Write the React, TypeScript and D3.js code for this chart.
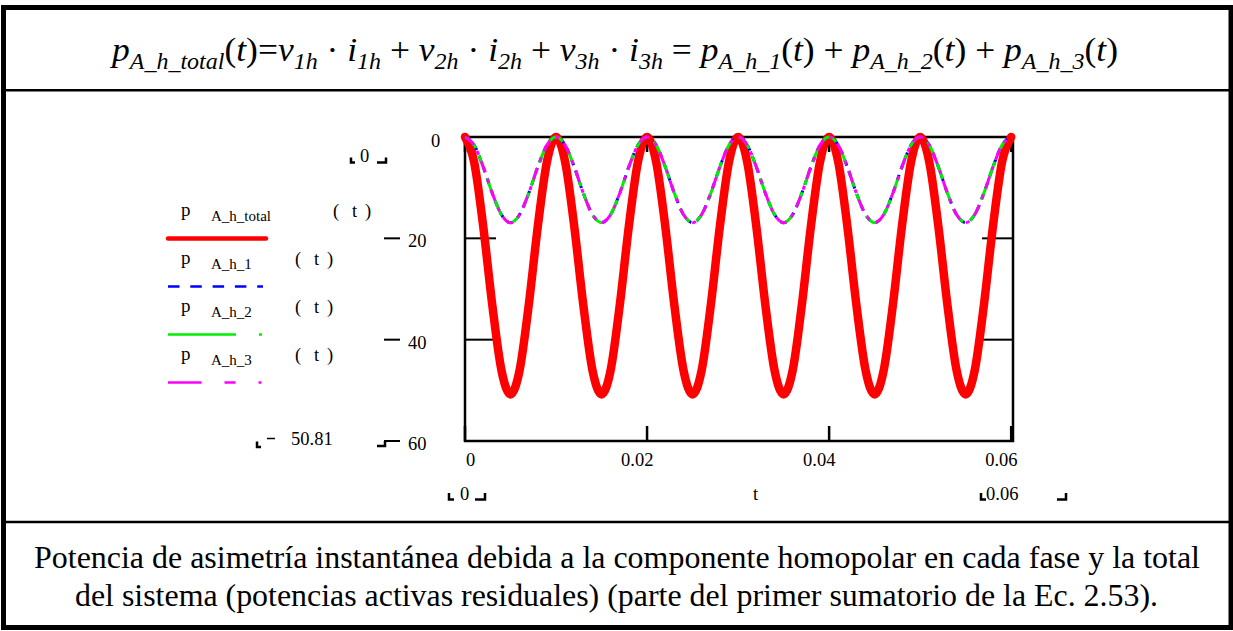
import React from 'react';
import * as d3 from 'd3';

// time samples (s)
const timeSec = [
  0, 0.001, 0.002, 0.003, 0.004, 0.005, 0.006, 0.007, 0.008, 0.009,
  0.01, 0.011, 0.012, 0.013, 0.014, 0.015, 0.016, 0.017, 0.018, 0.019,
  0.02, 0.021, 0.022, 0.023, 0.024, 0.025, 0.026, 0.027, 0.028, 0.029,
  0.03, 0.031, 0.032, 0.033, 0.034, 0.035, 0.036, 0.037, 0.038, 0.039,
  0.04, 0.041, 0.042, 0.043, 0.044, 0.045, 0.046, 0.047, 0.048, 0.049,
  0.05, 0.051, 0.052, 0.053, 0.054, 0.055, 0.056, 0.057, 0.058, 0.059,
  0.06,
];

// p_A_h_total(t)
const pTotal = [
  0, -4.9, -17.6, -33.2, -46.0, -50.8, -46.0, -33.2, -17.6, -4.9,
  0, -4.9, -17.6, -33.2, -46.0, -50.8, -46.0, -33.2, -17.6, -4.9,
  0, -4.9, -17.6, -33.2, -46.0, -50.8, -46.0, -33.2, -17.6, -4.9,
  0, -4.9, -17.6, -33.2, -46.0, -50.8, -46.0, -33.2, -17.6, -4.9,
  0, -4.9, -17.6, -33.2, -46.0, -50.8, -46.0, -33.2, -17.6, -4.9,
  0, -4.9, -17.6, -33.2, -46.0, -50.8, -46.0, -33.2, -17.6, -4.9,
  0,
];

// p_A_h_1(t)
const pA1 = [
  0, -1.6, -5.9, -11.1, -15.3, -16.9, -15.3, -11.1, -5.9, -1.6,
  0, -1.6, -5.9, -11.1, -15.3, -16.9, -15.3, -11.1, -5.9, -1.6,
  0, -1.6, -5.9, -11.1, -15.3, -16.9, -15.3, -11.1, -5.9, -1.6,
  0, -1.6, -5.9, -11.1, -15.3, -16.9, -15.3, -11.1, -5.9, -1.6,
  0, -1.6, -5.9, -11.1, -15.3, -16.9, -15.3, -11.1, -5.9, -1.6,
  0, -1.6, -5.9, -11.1, -15.3, -16.9, -15.3, -11.1, -5.9, -1.6,
  0,
];

// p_A_h_2(t)
const pA2 = [
  0, -1.6, -5.9, -11.1, -15.3, -16.9, -15.3, -11.1, -5.9, -1.6,
  0, -1.6, -5.9, -11.1, -15.3, -16.9, -15.3, -11.1, -5.9, -1.6,
  0, -1.6, -5.9, -11.1, -15.3, -16.9, -15.3, -11.1, -5.9, -1.6,
  0, -1.6, -5.9, -11.1, -15.3, -16.9, -15.3, -11.1, -5.9, -1.6,
  0, -1.6, -5.9, -11.1, -15.3, -16.9, -15.3, -11.1, -5.9, -1.6,
  0, -1.6, -5.9, -11.1, -15.3, -16.9, -15.3, -11.1, -5.9, -1.6,
  0,
];

// p_A_h_3(t)
const pA3 = [
  0, -1.6, -5.9, -11.1, -15.3, -16.9, -15.3, -11.1, -5.9, -1.6,
  0, -1.6, -5.9, -11.1, -15.3, -16.9, -15.3, -11.1, -5.9, -1.6,
  0, -1.6, -5.9, -11.1, -15.3, -16.9, -15.3, -11.1, -5.9, -1.6,
  0, -1.6, -5.9, -11.1, -15.3, -16.9, -15.3, -11.1, -5.9, -1.6,
  0, -1.6, -5.9, -11.1, -15.3, -16.9, -15.3, -11.1, -5.9, -1.6,
  0, -1.6, -5.9, -11.1, -15.3, -16.9, -15.3, -11.1, -5.9, -1.6,
  0,
];

const yTicks = [0, -20, -40, -60];
const yTickLabels = ['0', '20', '40', '60'];
const xTicks = [0, 0.02, 0.04, 0.06];
const xTickLabels = ['0', '0.02', '0.04', '0.06'];

const captionLines = [
  'Potencia de asimetría instantánea debida a la componente homopolar en cada fase y la total',
  'del sistema (potencias activas residuales) (parte del primer sumatorio de la Ec. 2.53).',
];

const SERIF = 'Liberation Serif, Times New Roman, Times, serif';

export default function App() {
  const W = 1233;
  const H = 631;
  const x = d3.scaleLinear().domain([0, 0.0602]).range([465, 1013]);
  const y = d3.scaleLinear().domain([0, -60]).range([137, 441]);
  const mk = (vals: number[]) =>
    d3
      .line<number>()
      .x((_, i) => x(timeSec[i]))
      .y((v) => y(v))
      .curve(d3.curveMonotoneX)(vals) || '';

  const [x0, x1] = x.range();
  const [y0, y1] = y.range();
  const hTick = 31;
  const vTick = 15;

  const legendRows = [
    { sub: 'A_h_total', base: 216, parenX: 333, color: '#ff0000', w: 4.5, dash: '', cap: 'round' as const },
    { sub: 'A_h_1', base: 264, parenX: 295, color: '#0000ff', w: 2.5, dash: '11.5,10.8', cap: 'butt' as const },
    { sub: 'A_h_2', base: 312, parenX: 295, color: '#00ee00', w: 2.5, dash: '68,23,3', cap: 'butt' as const },
    { sub: 'A_h_3', base: 360, parenX: 295, color: '#ff00ff', w: 2.5, dash: '33.5,23,11,23,3', cap: 'butt' as const },
  ];

  const subStyle = { fontSize: 23 };
  const sd = 8;

  return (
    <svg
      width={W}
      height={H}
      viewBox={`0 0 ${W} ${H}`}
      style={{ position: 'absolute', left: 0, top: 0, background: '#fff', fontFamily: SERIF }}
    >
      <rect x={0} y={0} width={W} height={H} fill="#fff" />
      {/* outer frame and dividers */}
      <rect x={3.5} y={7.5} width={1227.5} height={620} fill="none" stroke="#000" strokeWidth={5} />
      <line x1={3} x2={1231} y1={90.3} y2={90.3} stroke="#000" strokeWidth={2.5} />
      <line x1={3} x2={1231} y1={522} y2={522} stroke="#000" strokeWidth={2.5} />

      {/* formula */}
      <text x={112} y={61} fontSize={34} fontStyle="italic" textLength={1006} lengthAdjust="spacingAndGlyphs">
        p<tspan style={subStyle} dy={sd}>A_h_total</tspan>
        <tspan dy={-sd} fontStyle="normal">(</tspan>t<tspan fontStyle="normal">)</tspan>
        <tspan fontStyle="normal">=</tspan>v<tspan style={subStyle} dy={sd}>1h</tspan>
        <tspan dy={-sd} fontStyle="normal"> · </tspan>i<tspan style={subStyle} dy={sd}>1h</tspan>
        <tspan dy={-sd} fontStyle="normal"> + </tspan>v<tspan style={subStyle} dy={sd}>2h</tspan>
        <tspan dy={-sd} fontStyle="normal"> · </tspan>i<tspan style={subStyle} dy={sd}>2h</tspan>
        <tspan dy={-sd} fontStyle="normal"> + </tspan>v<tspan style={subStyle} dy={sd}>3h</tspan>
        <tspan dy={-sd} fontStyle="normal"> · </tspan>i<tspan style={subStyle} dy={sd}>3h</tspan>
        <tspan dy={-sd} fontStyle="normal"> = </tspan>p<tspan style={subStyle} dy={sd}>A_h_1</tspan>
        <tspan dy={-sd} fontStyle="normal">(</tspan>t<tspan fontStyle="normal">)</tspan>
        <tspan fontStyle="normal"> + </tspan>p<tspan style={subStyle} dy={sd}>A_h_2</tspan>
        <tspan dy={-sd} fontStyle="normal">(</tspan>t<tspan fontStyle="normal">)</tspan>
        <tspan fontStyle="normal"> + </tspan>p<tspan style={subStyle} dy={sd}>A_h_3</tspan>
        <tspan dy={-sd} fontStyle="normal">(</tspan>t<tspan fontStyle="normal">)</tspan>
      </text>

      {/* plot frame */}
      <rect x={x0} y={y0} width={x1 - x0} height={y1 - y0} fill="none" stroke="#000" strokeWidth={2.5} />
      {/* inner ticks */}
      {yTicks.map((v) => (
        <g key={`yt${v}`}>
          <line x1={x0} x2={x0 + hTick} y1={y(v)} y2={y(v)} stroke="#000" strokeWidth={2} />
          <line x1={x1 - hTick} x2={x1} y1={y(v)} y2={y(v)} stroke="#000" strokeWidth={2} />
        </g>
      ))}
      {xTicks.map((v) => (
        <g key={`xt${v}`}>
          <line x1={x(v)} x2={x(v)} y1={y0} y2={y0 + vTick} stroke="#000" strokeWidth={2.5} />
          <line x1={x(v)} x2={x(v)} y1={y1 - vTick} y2={y1} stroke="#000" strokeWidth={2.5} />
        </g>
      ))}

      {/* curves */}
      <path d={mk(pTotal)} fill="none" stroke="#ff0000" strokeWidth={8.5} strokeLinejoin="round" strokeLinecap="round" />
      <path d={mk(pA1)} fill="none" stroke="#0000ff" strokeWidth={3} strokeDasharray="6,6" />
      <path d={mk(pA2)} fill="none" stroke="#00ee00" strokeWidth={3} strokeDasharray="16,8" />
      <path d={mk(pA3)} fill="none" stroke="#ff00ff" strokeWidth={3} strokeDasharray="12,7,4,7" />

      {/* y axis labels */}
      <text x={431} y={y(0) + 10} fontSize={18.5}>0</text>
      {yTicks.slice(1).map((v, i) => (
        <g key={`yl${v}`}>
          <line x1={384} x2={400} y1={y(v)} y2={y(v)} stroke="#000" strokeWidth={2} />
          <text x={408} y={y(v) + 9} fontSize={18.5}>{yTickLabels[i + 1]}</text>
        </g>
      ))}
      {/* -60 marker step */}
      <path d="M377,446 H385 V441" fill="none" stroke="#000" strokeWidth={2.5} />

      {/* top y-range marker */}
      <path d="M351,157.5 V162.5 H355" fill="none" stroke="#000" strokeWidth={2.5} />
      <text x={360} y={161.5} fontSize={18.5}>0</text>
      <path d="M377,162.5 H386 V157.5" fill="none" stroke="#000" strokeWidth={2.5} />

      {/* -50.81 marker */}
      <path d="M257,441.5 V447 H261" fill="none" stroke="#000" strokeWidth={2.5} />
      <line x1={267} x2={275} y1={438.5} y2={438.5} stroke="#000" strokeWidth={1.5} />
      <text x={291} y={445} fontSize={18.5}>50.81</text>

      {/* legend */}
      {legendRows.map((r) => (
        <g key={r.sub}>
          <text x={181} y={r.base} fontSize={19}>p</text>
          <text x={211} y={r.base + 4.5} fontSize={15}>{r.sub}</text>
          <text x={r.parenX} y={r.base + 1} fontSize={18.5}>(</text>
          <text x={r.parenX + 19} y={r.base + 1} fontSize={18.5}>t</text>
          <text x={r.parenX + 32} y={r.base + 1} fontSize={18.5}>)</text>
          <line
            x1={168}
            x2={r.dash ? 263 : 266}
            y1={r.base + 22.5}
            y2={r.base + 22.5}
            stroke={r.color}
            strokeWidth={r.w}
            strokeLinecap={r.cap}
            strokeDasharray={r.dash || undefined}
          />
        </g>
      ))}

      {/* x axis labels */}
      {xTicks.map((v, i) => (
        <text key={`xl${v}`} x={i === 0 ? x(v) + 1 : x(v) - 26} y={466} fontSize={18.5}>
          {xTickLabels[i]}
        </text>
      ))}

      {/* bottom x-range markers */}
      <path d="M449,493 V499.5 H454" fill="none" stroke="#000" strokeWidth={2.5} />
      <text x={460} y={500} fontSize={18.5}>0</text>
      <path d="M475,499.5 H485 V493" fill="none" stroke="#000" strokeWidth={2.5} />
      <text x={753} y={500} fontSize={18.5}>t</text>
      <path d="M981,493 V499.5 H986" fill="none" stroke="#000" strokeWidth={2.5} />
      <text x={986} y={500} fontSize={18.5}>0.06</text>
      <path d="M1057,499.5 H1066 V493" fill="none" stroke="#000" strokeWidth={2.5} />

      {/* caption */}
      <text x={34} y={568} fontSize={31.5} textLength={1166} lengthAdjust="spacingAndGlyphs">
        {captionLines[0]}
      </text>
      <text x={75} y={606} fontSize={31.5} textLength={1083} lengthAdjust="spacingAndGlyphs">
        {captionLines[1]}
      </text>
    </svg>
  );
}
